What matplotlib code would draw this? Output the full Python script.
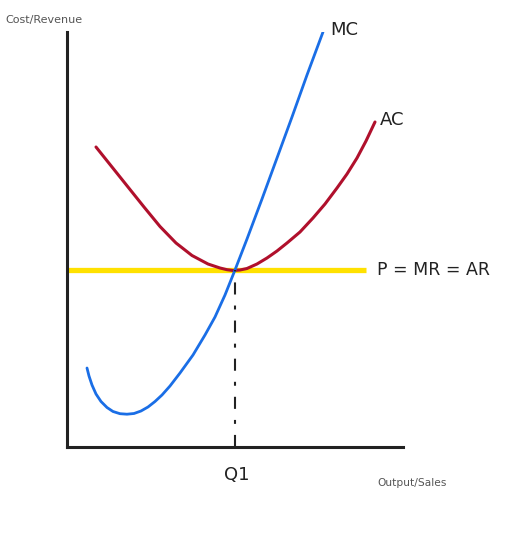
# -*- coding: utf-8 -*-

import numpy as np
import matplotlib
matplotlib.use("Agg")
import matplotlib.pyplot as plt

# Courbes (quantite, cout)
mc_q = [20, 22, 25, 29, 34, 40, 46, 53, 60, 67, 74, 81, 88, 95, 103, 113, 126,
        138, 148, 158, 168, 180, 195, 210, 225, 240, 256]
mc_c = [79, 71, 62, 53, 45.5, 39.5, 35.5, 33.3, 32.8, 33.5, 36, 40, 45.5, 52,
        61, 74, 92, 112, 130, 152, 177, 208, 248, 289, 330, 372, 415]

ac_q = [29, 45, 61, 77, 93, 109, 125, 141, 153, 160, 166, 173, 180, 190, 200,
        210, 220, 233, 246, 258, 270, 280, 290, 299, 308]
ac_c = [300, 280, 260, 240, 220.5, 204, 191.5, 183, 179, 177.3, 176.5, 177,
        178.5, 183, 189, 196, 204, 215, 229, 243, 259, 273, 289, 306, 325]

prix = 177          # P = MR = AR
q1 = 168            # quantite d'equilibre
q_max_prix = 299    # fin de la droite de prix

police = ["DejaVu Sans"]

fig = plt.figure(figsize=(5.31, 5.48), dpi=100)
ax = fig.add_axes([67 / 531, 101 / 548, 336 / 531, 415 / 548])
ax.set_xlim(0, 336)
ax.set_ylim(0, 415)

# Axes
for cote in ["top", "right"]:
    ax.spines[cote].set_visible(False)
for cote in ["left", "bottom"]:
    ax.spines[cote].set_linewidth(2.2)
    ax.spines[cote].set_color("#222222")
ax.set_xticks([])
ax.set_yticks([])

# Droite de prix
ax.plot([0, q_max_prix], [prix, prix], color="#ffe100", lw=3.8,
        solid_capstyle="butt", zorder=2)

# Courbes de cout
ax.plot(ac_q, ac_c, color="#b0102c", lw=2.2, solid_joinstyle="round",
        solid_capstyle="round", zorder=3)
ax.plot(mc_q, mc_c, color="#1a6ee6", lw=2.0, solid_joinstyle="round",
        solid_capstyle="round", zorder=4)

# Pointille Q1
ax.plot([q1, q1], [0, prix], color="#222222", lw=1.5,
        dashes=[5.8, 5.3, 1.9, 5.3], zorder=5)

# Textes
ax.text(-62, 427, "Cost/Revenue", fontsize=8, color="#555555",
        family=police, ha="left", va="center", clip_on=False)
ax.text(310, -36, "Output/Sales", fontsize=7.7, color="#555555",
        family=police, ha="left", va="center", clip_on=False)
ax.text(q1 + 2, -28, "Q1", fontsize=13, color="#222222",
        family=police, ha="center", va="center", clip_on=False)
ax.text(263, 417, "MC", fontsize=13, color="#222222",
        family=police, ha="left", va="center", clip_on=False)
ax.text(313, 327, "AC", fontsize=13, color="#222222",
        family=police, ha="left", va="center", clip_on=False)
ax.text(310, prix, "P = MR = AR", fontsize=12.5, color="#222222",
        family=police, ha="left", va="center", clip_on=False)

fig.savefig("out.png", dpi=100)
